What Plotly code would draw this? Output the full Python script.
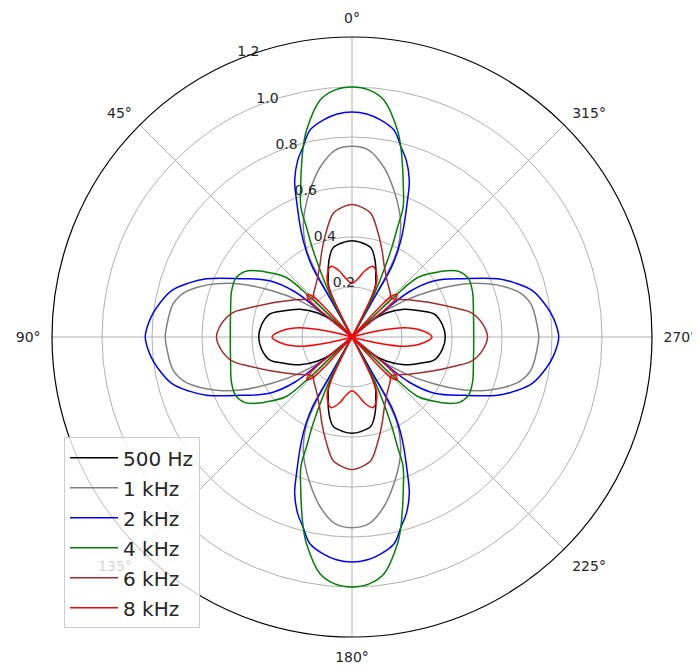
import plotly.graph_objects as go

# Readings for one quadrant (angle in degrees from 0° at top, counter-clockwise);
# the patterns are symmetric, the other quadrants mirror these readings.
theta_500 = [0, 5.3, 11.8, 15.2, 18.9, 21.8, 24.2, 27.6, 29, 48, 49.9, 54.8, 62, 69.4, 74.5, 82.4, 90]
r_500 = [0.385, 0.38, 0.366, 0.337, 0.294, 0.256, 0.232, 0.133, 0.0, 0.0, 0.10, 0.167, 0.237, 0.296, 0.342, 0.365, 0.373]

theta_1k = [0, 5.2, 10.7, 16.0, 20.5, 23.6, 27.6, 29.1, 29.2, 29.4, 50.5, 50.8, 55.3, 59.8, 64.7, 68.6, 71.8, 75.2, 79.6, 86.3, 90]
r_1k = [0.763, 0.75, 0.69, 0.61, 0.54, 0.487, 0.39, 0.28, 0.165, 0.0, 0.0, 0.14, 0.254, 0.366, 0.497, 0.583, 0.643, 0.694, 0.728, 0.742, 0.747]

theta_2k = [0, 4, 7.6, 11.5, 14.5, 17.1, 20.1, 22.1, 26, 28, 29.5, 29.6, 30, 50.5, 50.9, 51.7, 55.7, 62.6, 68.2, 71.6, 75.6, 81.1, 84.8, 90]
r_2k = [0.90, 0.893, 0.875, 0.844, 0.784, 0.739, 0.667, 0.59, 0.46, 0.39, 0.32, 0.166, 0.0, 0.0, 0.166, 0.292, 0.399, 0.507, 0.627, 0.686, 0.745, 0.788, 0.81, 0.827]

theta_4k = [0, 4, 7.7, 12.4, 14.4, 16.2, 18.7, 21.5, 22.6, 24.2, 27.3, 27.6, 46.3, 46.35, 46.4, 47.8, 52.0, 55.2, 58.7, 63.4, 69.4, 78.3, 90]
r_4k = [1.0, 0.99, 0.956, 0.847, 0.785, 0.722, 0.64, 0.558, 0.47, 0.379, 0.193, 0.0, 0.0, 0.122, 0.233, 0.353, 0.418, 0.465, 0.503, 0.521, 0.515, 0.496, 0.487]

theta_6k = [0, 4.4, 8.7, 14.0, 19.2, 24.3, 32.0, 40.8, 45, 57.0, 67.0, 74.1, 78.6, 84.3, 90]
r_6k = [0.53, 0.52, 0.50, 0.43, 0.366, 0.313, 0.265, 0.234, 0.221, 0.273, 0.349, 0.426, 0.488, 0.525, 0.542]

theta_8k = [0, 6, 11, 16.5, 20, 23.8, 25.6, 26.5, 27.5, 41.5, 42.3, 43, 44, 46.5, 49, 50, 50.7, 51.5, 73, 74, 76.7, 79.9, 84.4, 90]
r_8k = [0.215, 0.235, 0.27, 0.295, 0.28, 0.246, 0.205, 0.10, 0.0, 0.0, 0.10, 0.19, 0.228, 0.248, 0.228, 0.19, 0.10, 0.0, 0.0, 0.03, 0.104, 0.212, 0.277, 0.32]

series_names = ["500 Hz", "1 kHz", "2 kHz", "4 kHz", "6 kHz", "8 kHz"]
series_theta = [theta_500, theta_1k, theta_2k, theta_4k, theta_6k, theta_8k]
series_r = [r_500, r_1k, r_2k, r_4k, r_6k, r_8k]
series_colors = ["#000000", "#808080", "#0000ff", "#008000", "#a52a2a", "#ff0000"]

angle_ticks = [0, 45, 90, 135, 180, 225, 270, 315]
radial_ticks = [0.2, 0.4, 0.6, 0.8, 1.0, 1.2]
radial_label_angle = 22.5


def full_circle(theta, r):
    th = list(theta)
    rr = list(r)
    th += [180 - t for t in reversed(theta[:-1])]
    rr += list(reversed(r[:-1]))
    th += [180 + t for t in theta[1:]]
    rr += list(r[1:])
    th += [360 - t for t in reversed(theta[1:-1])]
    rr += list(reversed(r[1:-1]))
    # start the closed path at its smallest radius so the join is not on a lobe
    k = rr.index(min(rr))
    th = th[k:] + th[:k]
    rr = rr[k:] + rr[:k]
    th.append(th[0])
    rr.append(rr[0])
    return th, rr


fig = go.Figure()
for i, (name, th0, r0, col) in enumerate(zip(series_names, series_theta, series_r, series_colors)):
    th, rr = full_circle(th0, r0)
    fig.add_trace(go.Scatterpolar(
        r=rr, theta=th, mode="lines", name=name, legendgroup=f"g{i}",
        line=dict(color=col, width=1.5, shape="spline", smoothing=1.0),
    ))

# radial tick labels (placed along the 22.5° ray like the reference)
fig.add_trace(go.Scatterpolar(
    r=radial_ticks, theta=[radial_label_angle] * len(radial_ticks),
    mode="text", text=[f"{v:.1f}" for v in radial_ticks],
    textposition="top right", textfont=dict(size=14, color="#262626"),
    showlegend=False, hoverinfo="skip", cliponaxis=False,
))

fig.update_layout(
    width=700, height=672,
    margin=dict(l=44, r=56, t=29, b=43),
    paper_bgcolor="white",
    font=dict(family="DejaVu Sans", color="#262626", size=14),
    showlegend=True,
    legend=dict(
        x=0.02, y=0.333, xanchor="left", yanchor="top",
        bgcolor="rgba(255,255,255,0.8)", bordercolor="#cccccc", borderwidth=1,
        font=dict(size=20, color="#262626"), tracegroupgap=1, itemwidth=48,
    ),
    polar=dict(
        bgcolor="white",
        domain=dict(x=[0, 1], y=[0, 1]),
        angularaxis=dict(
            rotation=90, direction="counterclockwise",
            tickvals=angle_ticks, ticktext=[f"{a}°" for a in angle_ticks],
            showline=True, linecolor="black", linewidth=1.2,
            gridcolor="#b0b0b0", gridwidth=1,
            ticks="outside", ticklen=8, tickcolor="rgba(0,0,0,0)",
            tickfont=dict(size=14, color="#262626"),
        ),
        radialaxis=dict(
            range=[0, 1.2], tickvals=radial_ticks,
            showticklabels=False, showline=False, ticks="",
            gridcolor="#b0b0b0", gridwidth=1,
        ),
    ),
)

fig.write_html("out.html")
